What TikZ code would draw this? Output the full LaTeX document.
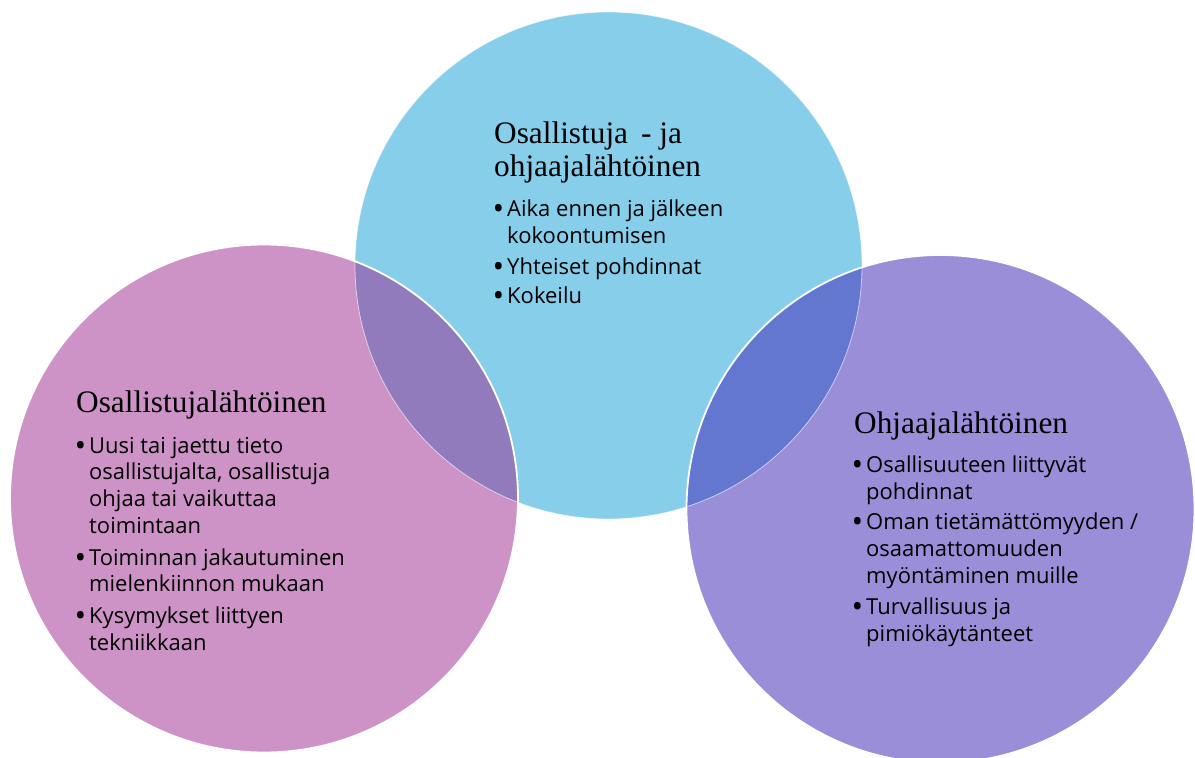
\documentclass[tikz,border=0pt]{standalone}
\usepackage{fontspec}
\setmainfont{Liberation Serif}
\newfontfamily\bodyfont{Open Sans}
\definecolor{cTop}{RGB}{135,206,235}
\definecolor{cLeft}{RGB}{205,147,199}
\definecolor{cRight}{RGB}{155,142,216}
\definecolor{cLT}{RGB}{145,123,188}
\definecolor{cTR}{RGB}{99,118,208}
\tikzset{
  titletext/.style={anchor=base west, inner sep=0pt, font=\fontsize{31.3}{33}\selectfont},
  itemtext/.style={anchor=base west, inner sep=0pt, align=left, font=\bodyfont\fontsize{22}{26.6}\selectfont},
}
\newcommand{\bul}{\llap{\raisebox{-3pt}{\fontsize{31}{0}\selectfont •}\hspace{3pt}}}
\begin{document}
\begin{tikzpicture}[x=1pt,y=-1pt]
\useasboundingbox (0,0) rectangle (1195,758);
\clip (0,0) rectangle (1195,758);
\coordinate (cT) at (608.5,265.5);
\coordinate (cL) at (264,498.5);
\coordinate (cR) at (940.5,509);
% circles
\fill[cTop] (cT) circle[radius=253.5pt];
\fill[cLeft] (cL) circle[radius=254pt];
\fill[cRight] (cR) circle[radius=254pt];
% overlaps
\begin{scope}
  \clip (cT) circle[radius=253.5pt];
  \fill[cLT] (cL) circle[radius=254pt];
  \fill[cTR] (cR) circle[radius=254pt];
\end{scope}
% borders
\draw[white, opacity=0.6, line width=0.8pt] (cT) circle[radius=253.5pt];
\draw[white, line width=1.8pt] (cL) circle[radius=254pt];
\draw[white, line width=1.8pt] (cR) circle[radius=254pt];
% top texts (multi-line nodes are placed at their last baseline)
\node[titletext] (tT1) at (494,143) {Osallistuja \,- ja};
\node[titletext] (tT2) at (494,176) {ohjaajalähtöinen};
\node[itemtext] (iT1) at (507,243) {\bul Aika ennen ja jälkeen\\kokoontumisen};
\node[itemtext] (iT2) at (507,274) {\bul Yhteiset pohdinnat};
\node[itemtext] (iT3) at (507,303) {\bul Kokeilu};
% left texts
\node[titletext] (tL) at (76,412) {Osallistujalähtöinen};
\node[itemtext] (iL1) at (89,533) {\bul Uusi tai jaettu tieto\\osallistujalta, osallistuja\\ohjaa tai vaikuttaa\\toimintaan};
\node[itemtext] (iL2) at (89,591.6) {\bul Toiminnan jakautuminen\\mielenkiinnon mukaan};
\node[itemtext] (iL3) at (89,650) {\bul Kysymykset liittyen\\tekniikkaan};
% right texts
\node[titletext] (tR) at (854,433.5) {Ohjaajalähtöinen};
\node[itemtext] (iR1) at (866,499.5) {\bul Osallisuuteen liittyvät\\pohdinnat};
\node[itemtext] (iR2) at (866,583) {\bul Oman tietämättömyyden /\\osaamattomuuden\\myöntäminen muille};
\node[itemtext] (iR3) at (866,641) {\bul Turvallisuus ja\\pimiökäytänteet};
\end{tikzpicture}
\end{document}
